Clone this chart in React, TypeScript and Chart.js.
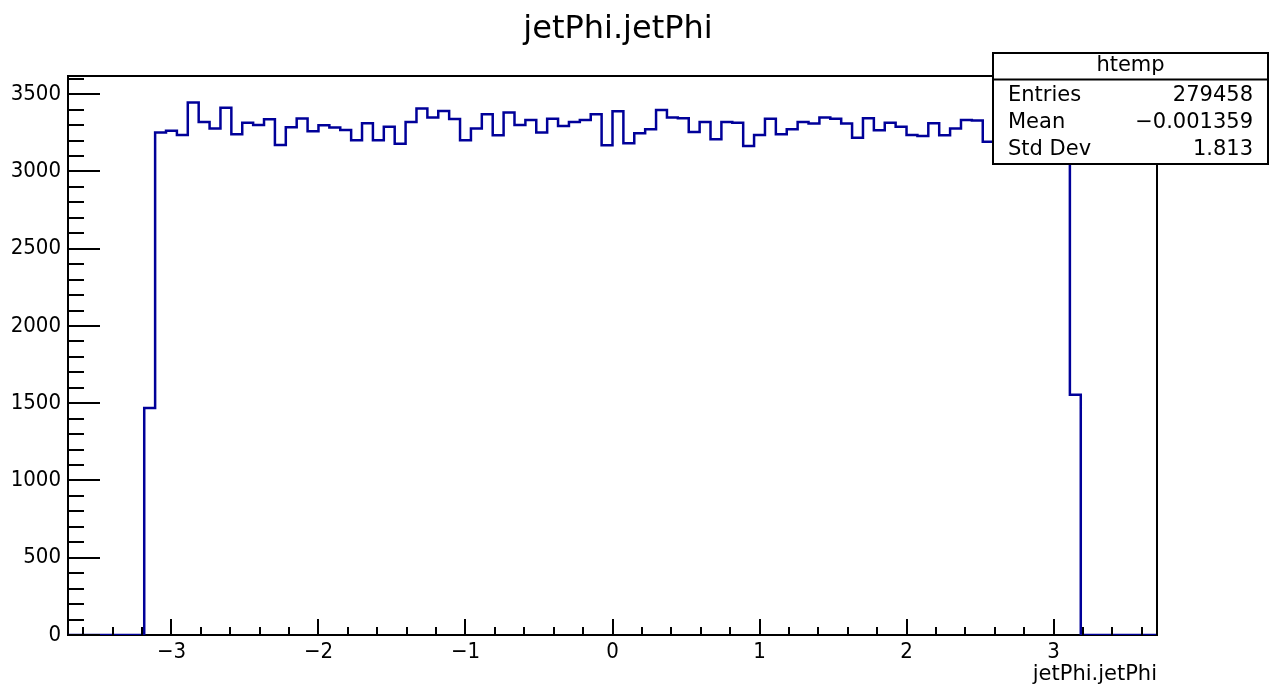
import { useEffect, useRef } from 'react';
import { Chart, registerables } from 'chart.js';

Chart.register(...registerables);

// Histogram definition (htemp: 100 bins)
const X_MIN = -3.704;
const X_MAX = 3.704;
const N_BINS = 100;

// Bin contents
const binCounts: number[] = [
  0, 0, 0, 0, 0, 0, 0,
  1470,
  3252, 3264, 3236, 3446, 3321, 3278, 3413, 3241, 3316, 3301,
  3338, 3171, 3286, 3343, 3260, 3299, 3284, 3269, 3202, 3312,
  3202, 3290, 3180, 3321, 3407, 3349, 3392, 3340, 3202, 3278,
  3370, 3234, 3381, 3301, 3333, 3252, 3342, 3295, 3321, 3333,
  3370, 3169, 3390, 3182, 3247, 3273, 3398, 3349, 3345, 3256,
  3321, 3208, 3321, 3316, 3165, 3236, 3342, 3241, 3273, 3321,
  3310, 3349, 3342, 3310, 3219, 3344, 3267, 3316, 3290, 3236,
  3230, 3312, 3234, 3278, 3333, 3330, 3193,
  3285, 3240, 3310, 3262, 3228, 3300, 3237,
  1555,
  0, 0, 0, 0, 0, 0, 0,
];

const Y_MAX = 3618;
const titleText = 'jetPhi.jetPhi';
const xAxisTitle = 'jetPhi.jetPhi';
const statTitle = 'htemp';
const statNames = ['Entries', 'Mean', 'Std Dev'];
const statValues = ['279458', '\u22120.001359', '1.813'];

const FONT = "'DejaVu Sans', sans-serif";
const FONT_COND = "'DejaVu Sans Condensed', 'DejaVu Sans', sans-serif";
const LINE_COLOR = '#000099';

const fmtInt = (v: number) => {
  const r = Math.round(v);
  return r < 0 ? '\u2212' + Math.abs(r) : String(r);
};

const decorPlugin = {
  id: 'rootDecor',
  afterDraw(chart: any) {
    const ctx: CanvasRenderingContext2D = chart.ctx;
    const { left, right, top, bottom } = chart.chartArea;
    ctx.save();
    ctx.strokeStyle = '#000';
    ctx.lineWidth = 2;
    // frame top & right
    ctx.beginPath();
    ctx.moveTo(left, top);
    ctx.lineTo(right, top);
    ctx.lineTo(right, bottom);
    ctx.stroke();

    // tick marks (inward)
    ctx.beginPath();
    const xs = chart.scales.x;
    xs.ticks.forEach((t: any) => {
      const p = Math.round(xs.getPixelForValue(t.value));
      const major = Math.abs(t.value - Math.round(t.value)) < 1e-6;
      ctx.moveTo(p, bottom);
      ctx.lineTo(p, bottom - (major ? 16 : 8));
    });
    const ys = chart.scales.y;
    ys.ticks.forEach((t: any) => {
      const p = Math.round(ys.getPixelForValue(t.value));
      const major = Math.round(t.value) % 500 === 0;
      ctx.moveTo(left, p);
      ctx.lineTo(left + (major ? 32 : 16), p);
    });
    ctx.stroke();

    // title
    ctx.fillStyle = '#000';
    ctx.font = `32px ${FONT}`;
    ctx.textAlign = 'center';
    ctx.textBaseline = 'alphabetic';
    ctx.fillText(titleText, 618, 38);

    // stats box
    const bx = 993, by = 53, bw = 275, bh = 111;
    ctx.fillStyle = '#fff';
    ctx.fillRect(bx, by, bw, bh);
    ctx.strokeRect(bx, by, bw, bh);
    ctx.beginPath();
    ctx.moveTo(bx, 79.5);
    ctx.lineTo(bx + bw, 79.5);
    ctx.stroke();
    ctx.fillStyle = '#000';
    ctx.font = `21px ${FONT}`;
    ctx.textBaseline = 'middle';
    ctx.textAlign = 'center';
    ctx.fillText(statTitle, bx + bw / 2, 66);
    statNames.forEach((n, i) => {
      const yy = 96 + i * 27;
      ctx.textAlign = 'left';
      ctx.fillText(n, 1008, yy);
      ctx.textAlign = 'right';
      ctx.fillText(statValues[i], 1253, yy);
    });
    ctx.restore();
  },
};

export default function App() {
  const ref = useRef<HTMLCanvasElement>(null);
  useEffect(() => {
    if (!ref.current) return;
    const w = (X_MAX - X_MIN) / N_BINS;
    const points = binCounts.map((c, i) => ({ x: X_MIN + i * w, y: c }));
    points.push({ x: X_MAX, y: 0 });

    const chart = new Chart(ref.current, {
      type: 'line',
      data: {
        datasets: [
          {
            data: points,
            borderColor: LINE_COLOR,
            borderWidth: 2.5,
            stepped: true,
            pointRadius: 0,
            fill: false,
          },
        ],
      },
      options: {
        animation: false,
        responsive: false,
        events: [],
        layout: { padding: { top: 76, right: 118, left: 0, bottom: 0 } },
        plugins: { legend: { display: false }, tooltip: { enabled: false }, title: { display: false } },
        scales: {
          x: {
            type: 'linear',
            min: X_MIN,
            max: X_MAX,
            afterFit: (s: any) => { s.height = 51; },
            grid: { display: false, drawTicks: false },
            border: { display: true, color: '#000', width: 2 },
            ticks: {
              stepSize: 0.2,
              includeBounds: false,
              autoSkip: false,
              maxRotation: 0,
              padding: 4,
              color: '#000',
              font: { family: FONT_COND, size: 22 },
              callback: (v: any) => {
                const n = Number(v);
                return Math.abs(n - Math.round(n)) < 1e-6 ? fmtInt(n) : '';
              },
            },
            title: {
              display: true,
              text: xAxisTitle,
              align: 'end',
              color: '#000',
              font: { family: FONT, size: 21, lineHeight: '22px' },
              padding: { top: 0, bottom: 0 },
            },
          },
          y: {
            type: 'linear',
            min: 0,
            max: Y_MAX,
            afterFit: (s: any) => { s.width = 68; },
            grid: { display: false, drawTicks: false },
            border: { display: true, color: '#000', width: 2 },
            ticks: {
              stepSize: 100,
              includeBounds: false,
              autoSkip: false,
              padding: 7,
              color: '#000',
              font: { family: FONT_COND, size: 22 },
              callback: (v: any) => {
                const n = Math.round(Number(v));
                return n % 500 === 0 ? String(n) : '';
              },
            },
          },
        },
      },
      plugins: [decorPlugin],
    });
    return () => chart.destroy();
  }, []);

  return (
    <div style={{ position: 'fixed', left: 0, top: 0, width: 1275, height: 686, background: '#fff' }}>
      <canvas ref={ref} width={1275} height={686} />
    </div>
  );
}
